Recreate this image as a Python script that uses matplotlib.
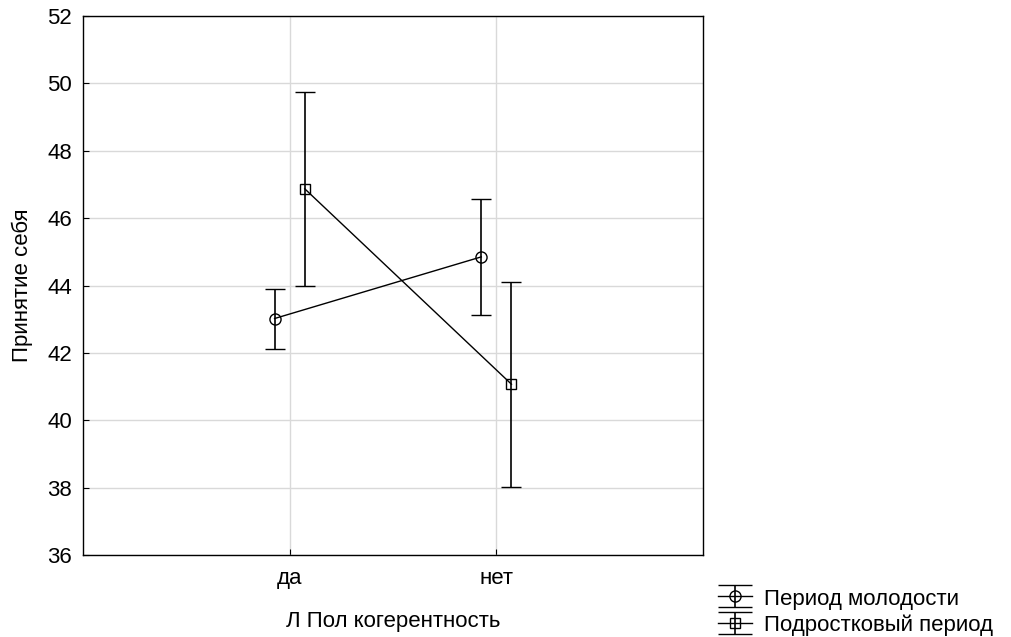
import matplotlib.pyplot as plt
import numpy as np
from matplotlib.lines import Line2D
from matplotlib.legend_handler import HandlerErrorbar

plt.rcParams['font.family'] = ['Liberation Sans', 'DejaVu Sans']

# Data
categories = ["да", "нет"]
series_names = ["Период молодости", "Подростковый период"]
young_mean = [43.02, 44.85]
young_err = [0.89, 1.72]
teen_mean = [46.87, 41.07]
teen_err = [2.88, 3.04]

fig = plt.figure(figsize=(10.11, 6.37), dpi=100)
ax = fig.add_axes([0.0821, 0.1287, 0.6133, 0.8462])

x = np.arange(len(categories))
shift = 0.073

h1 = ax.errorbar(x - shift, young_mean, yerr=young_err, color='black', lw=1,
                 marker='o', ms=8, mfc='none', mec='black', mew=1,
                 capsize=7.5, capthick=1.2, elinewidth=1.2, label=series_names[0])
h2 = ax.errorbar(x + shift, teen_mean, yerr=teen_err, color='black', lw=1,
                 marker='s', ms=7.5, mfc='none', mec='black', mew=1,
                 capsize=7.5, capthick=1.2, elinewidth=1.2, label=series_names[1])

ax.set_xlim(-1, 2)
ax.set_ylim(36, 52)
ax.set_xticks(x)
ax.set_xticklabels(categories)
ax.set_yticks(np.arange(36, 53, 2))
ax.tick_params(direction='in', labelsize=16, length=4, color='black')
ax.tick_params(axis='x', pad=9)
ax.tick_params(axis='y', pad=8)
ax.grid(True, color='#d9d9d9', lw=1)
ax.set_axisbelow(True)
for s in ax.spines.values():
    s.set_linewidth(1)

ax.set_xlabel("Л Пол когерентность", fontsize=16, labelpad=16)
ax.set_ylabel("Принятие себя", fontsize=16, labelpad=10)


# legend glyph: wide caps like the original software draws
def legend_update(leg_artist, orig):
    leg_artist.update_from(orig)
    if isinstance(orig, Line2D) and orig.get_marker() == '_':
        leg_artist.set_markersize(24)
        leg_artist.set_markeredgewidth(1)


handler = HandlerErrorbar(update_func=legend_update)
fig.legend(handles=[h1, h2], labels=series_names, loc='lower left',
           bbox_to_anchor=(0.690, -0.03), frameon=False, fontsize=16,
           handlelength=1.55, handletextpad=0.55, labelspacing=0.22,
           handleheight=0.85, handler_map={type(h1): handler})

fig.savefig("out.png", dpi=100)
